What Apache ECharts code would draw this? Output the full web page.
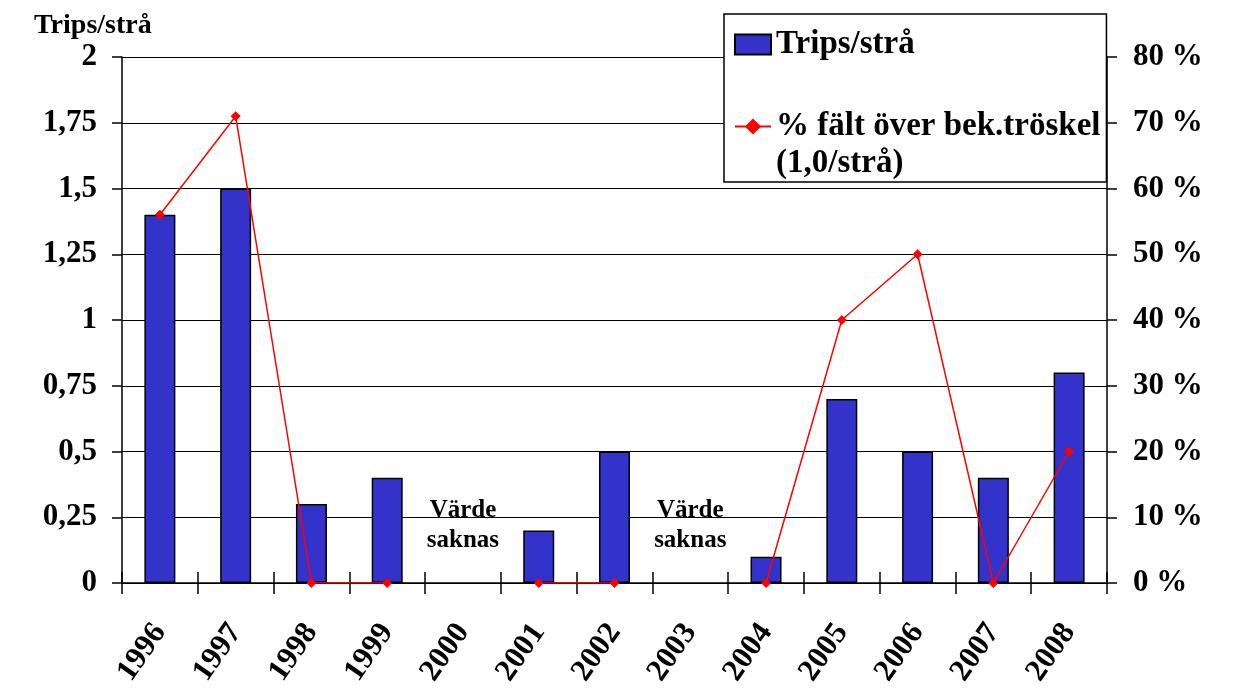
<!DOCTYPE html>
<html>
<head>
<meta charset="utf-8">
<script src="https://cdn.jsdelivr.net/npm/echarts@6/dist/echarts.min.js"></script>
<style>
  html, body { margin: 0; padding: 0; background: #fff; }
  #main { width: 1240px; height: 691px; }
</style>
</head>
<body>
<div id="main"></div>
<script>
// data
const years = ['1996', '1997', '1998', '1999', '2000', '2001', '2002', '2003', '2004', '2005', '2006', '2007', '2008'];
const tripsPerStraw = [1.4, 1.5, 0.3, 0.4, null, 0.2, 0.5, null, 0.1, 0.7, 0.5, 0.4, 0.8];
const pctFieldsOver = [56, 71, 0, 0, null, 0, 0, null, 0, 40, 50, 0, 20];
const leftAxisMax = 2, leftAxisStep = 0.25;
const rightAxisMax = 80, rightAxisStep = 10;
const missingYears = ['2000', '2003'];
const missingText = 'Värde\nsaknas';
const missingTextLevel = 0.22;

const barName = 'Trips/strå';
const lineName = '% fält över bek.tröskel\n(1,0/strå)';
const font = 'Liberation Serif';

const chart = echarts.init(document.getElementById('main'));

chart.setOption({
  animation: false,
  title: {
    text: 'Trips/strå',
    left: 29,
    top: 7,
    textStyle: { fontFamily: font, fontWeight: 'bold', fontSize: 28, color: '#000' }
  },
  legend: {
    orient: 'vertical',
    left: 724,
    top: 14,
    backgroundColor: '#fff',
    borderColor: '#000',
    borderWidth: 1.5,
    borderRadius: 0,
    padding: [12, 6, 0, 10],
    itemWidth: 36,
    itemHeight: 20,
    itemGap: 8,
    textStyle: { fontFamily: font, fontWeight: 'bold', fontSize: 33, lineHeight: 37, color: '#000' },
    // empty first line keeps the icon level with the first text line
    formatter: name => name === lineName ? '\n' + name : name,
    data: [
      { name: barName, icon: 'rect' },
      { name: lineName }
    ]
  },
  grid: { left: 122, right: 133, top: 57, bottom: 108, containLabel: false },
  xAxis: [{
    type: 'category',
    data: years,
    axisLine: { lineStyle: { color: '#000', width: 1.5 } },
    axisTick: { show: true, length: 11, lineStyle: { color: '#000', width: 1.5 } },
    axisLabel: {
      rotate: 55,
      margin: 44,
      fontFamily: font, fontWeight: 'bold', fontSize: 31, color: '#000'
    }
  }, {
    // inner half of the crossing ticks
    type: 'category',
    data: years,
    position: 'bottom',
    axisLine: { show: false },
    axisTick: { show: true, inside: true, length: 11, lineStyle: { color: '#000', width: 1.5 } },
    axisLabel: { show: false },
    splitLine: { show: false }
  }],
  yAxis: [{
    type: 'value',
    min: 0,
    max: leftAxisMax,
    interval: leftAxisStep,
    axisLine: { show: true, lineStyle: { color: '#000', width: 1.5 } },
    axisTick: { show: true, length: 10, lineStyle: { color: '#000', width: 1.5 } },
    axisLabel: {
      margin: 25,
      padding: [6, 0, 0, 0],
      formatter: v => String(v).replace('.', ','),
      fontFamily: font, fontWeight: 'bold', fontSize: 31, color: '#000'
    },
    splitLine: { show: true, lineStyle: { color: '#000', width: 1.2 } }
  }, {
    type: 'value',
    min: 0,
    max: rightAxisMax,
    interval: rightAxisStep,
    position: 'right',
    axisLine: { show: true, lineStyle: { color: '#000', width: 1.5 } },
    axisTick: { show: true, length: 10, lineStyle: { color: '#000', width: 1.5 } },
    axisLabel: {
      margin: 26,
      padding: [3, 0, 0, 0],
      formatter: '{value} %',
      fontFamily: font, fontWeight: 'bold', fontSize: 31, color: '#000'
    },
    splitLine: { show: false }
  }],
  series: [{
    name: barName,
    type: 'bar',
    data: tripsPerStraw,
    barWidth: 31,
    itemStyle: { color: '#3333cc', borderColor: '#000', borderWidth: 1.5 }
  }, {
    name: lineName,
    type: 'line',
    yAxisIndex: 1,
    data: pctFieldsOver,
    connectNulls: false,
    symbol: 'diamond',
    symbolSize: 10,
    showAllSymbol: true,
    lineStyle: { color: '#ff0000', width: 1.5 },
    itemStyle: { color: '#ff0000' },
    z: 3
  }, {
    name: 'saknas',
    type: 'scatter',
    data: missingYears.map(y => [y, missingTextLevel]),
    symbolSize: 0,
    silent: true,
    itemStyle: { opacity: 1 },
    label: {
      show: true,
      position: 'inside',
      formatter: missingText,
      opacity: 1,
      textBorderWidth: 0,
      fontFamily: font, fontWeight: 'bold', fontSize: 25, lineHeight: 30, color: '#000'
    }
  }]
});
</script>
</body>
</html>
